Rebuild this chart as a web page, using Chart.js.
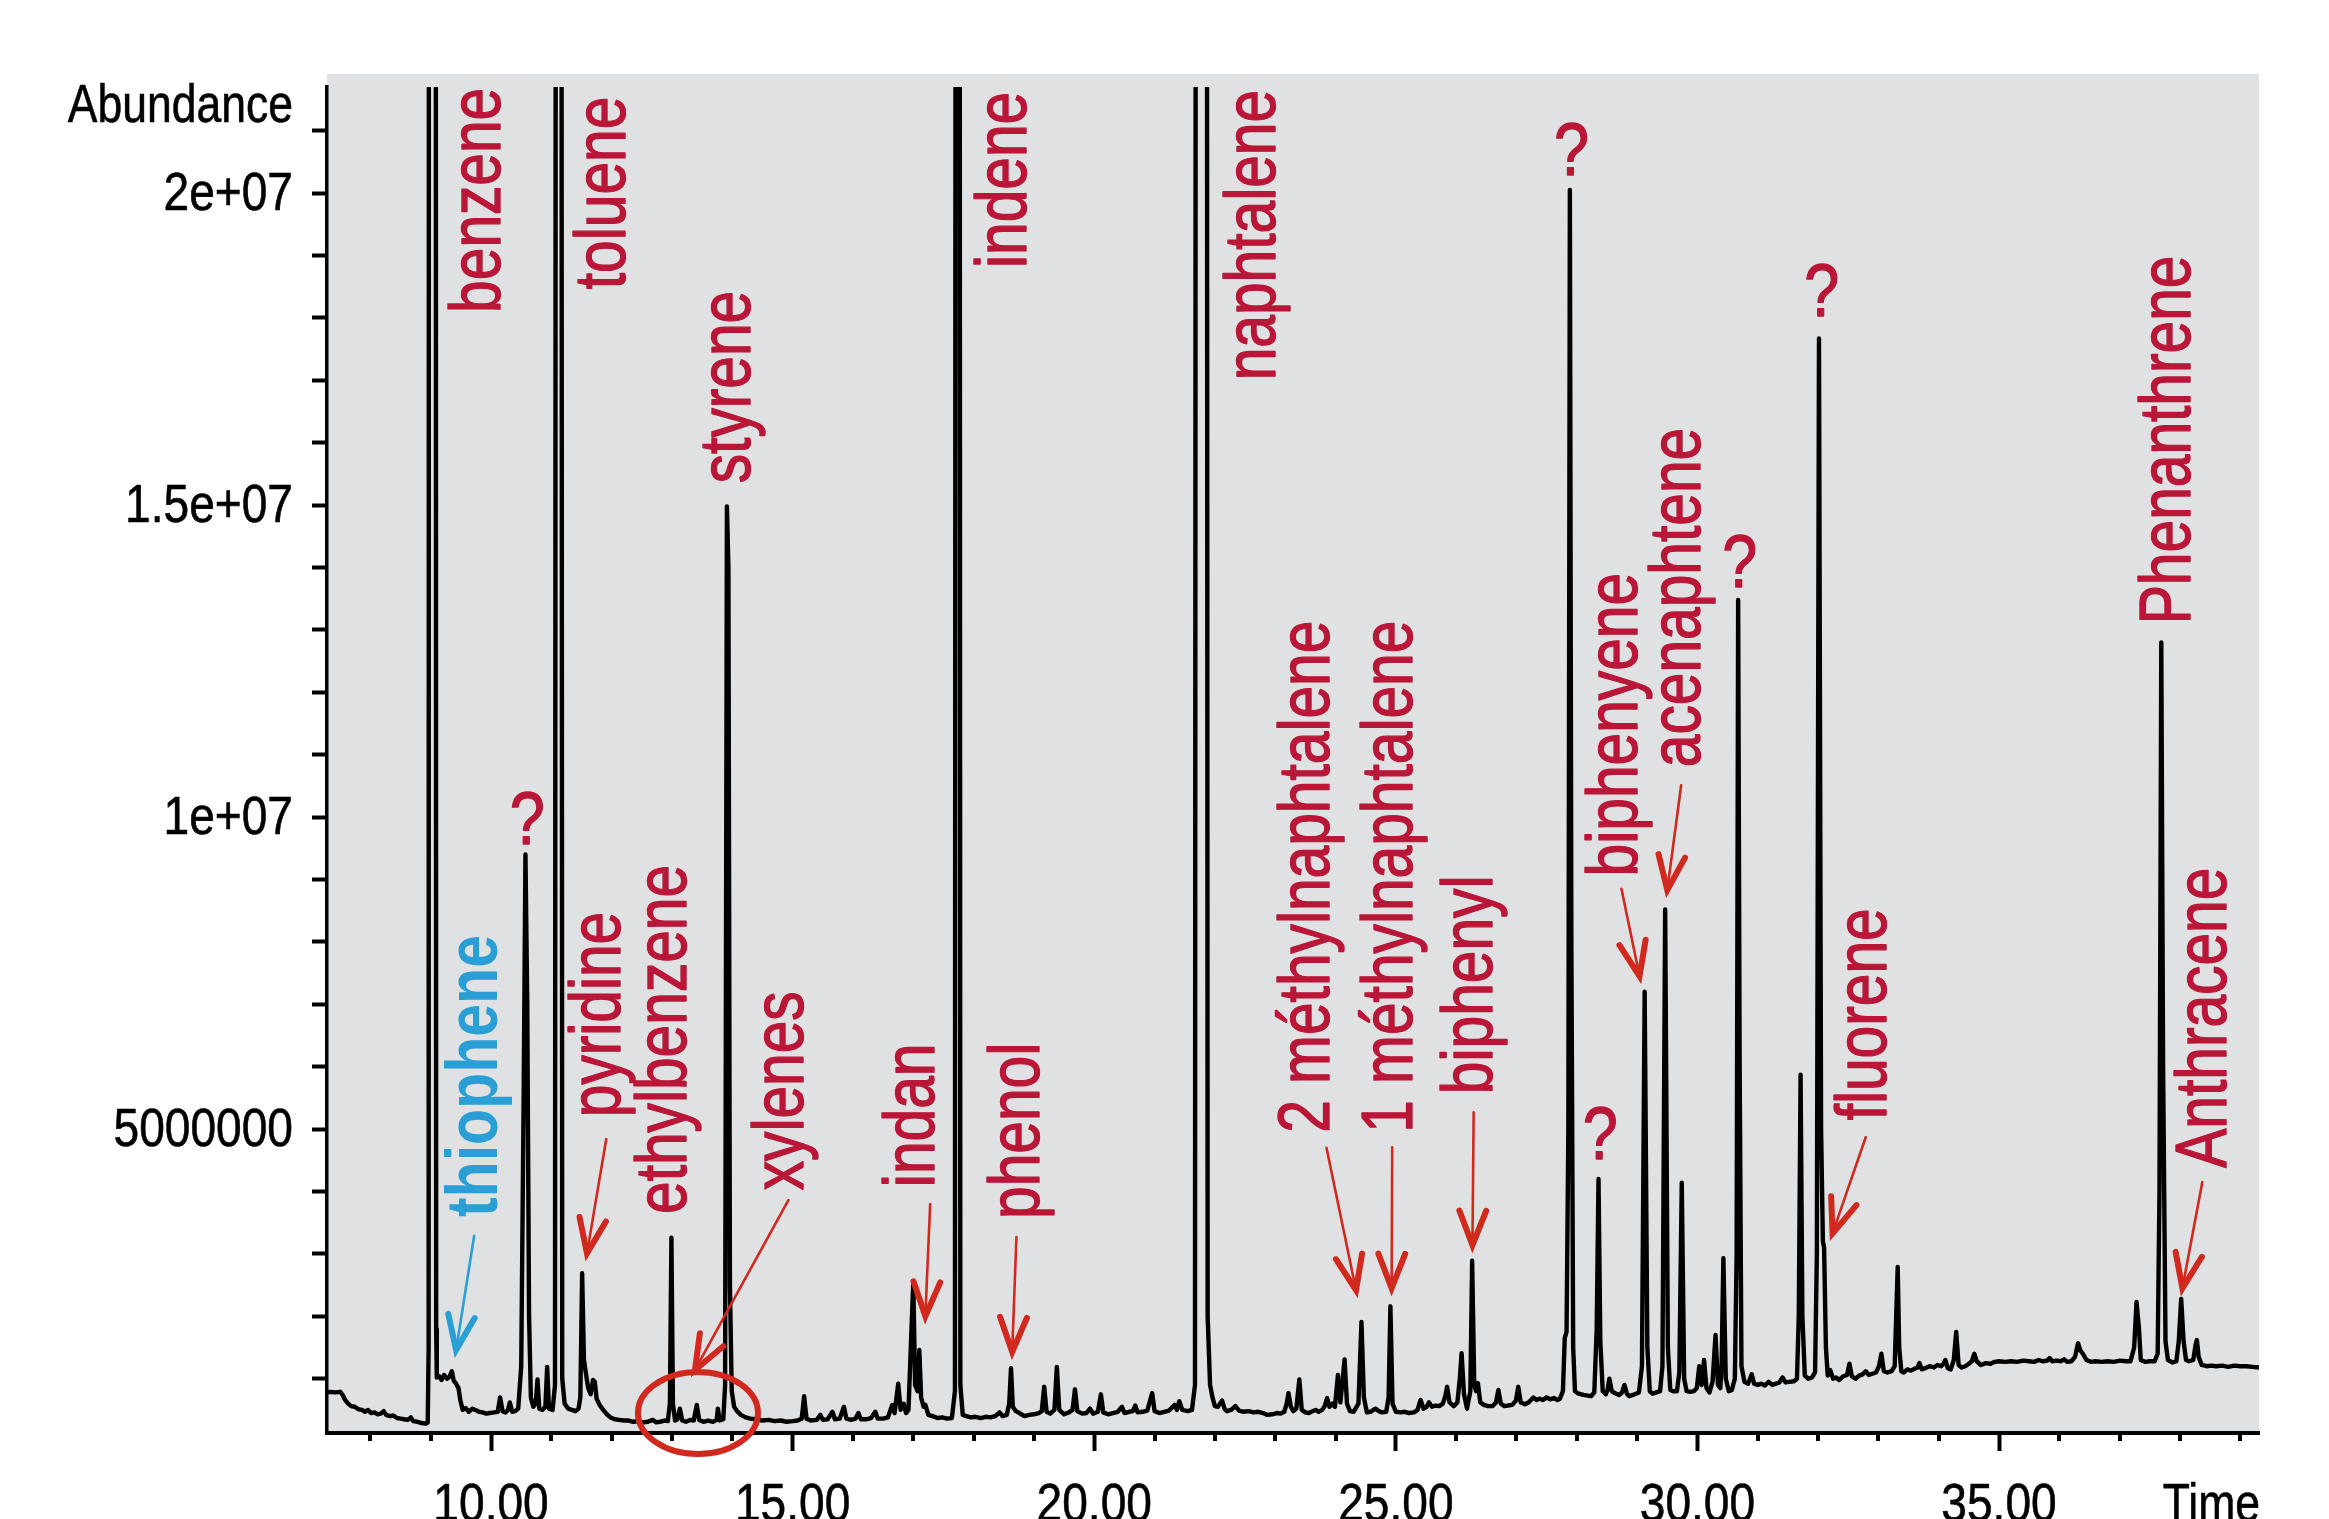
<!DOCTYPE html>
<html>
<head>
<meta charset="utf-8">
<title>Chromatogramme – composés aromatiques</title>
<script src="https://cdn.jsdelivr.net/npm/chart.js@4.4.1/dist/chart.umd.min.js"></script>
<style>
  html, body { margin: 0; padding: 0; background: #ffffff; }
  canvas { display: block; }
</style>
</head>
<body>
<canvas id="tic" width="2329" height="1519" style="width:2329px;height:1519px"></canvas>
<script>
// Total ion chromatogram: [retention time (min), abundance (millions)]
const trace0730to1200 = [
  [7.28,0.78],[7.34,0.79],[7.42,0.78],[7.50,0.79],[7.54,0.74],[7.58,0.66],[7.63,0.60],[7.68,0.56],
  [7.74,0.55],[7.80,0.51],[7.86,0.50],[7.91,0.47],[7.96,0.50],[8.01,0.45],[8.07,0.46],[8.12,0.43],
  [8.17,0.44],[8.22,0.48],[8.26,0.42],[8.32,0.40],[8.38,0.41],[8.44,0.37],[8.50,0.36],[8.56,0.35],
  [8.62,0.34],[8.67,0.38],[8.71,0.32],[8.78,0.31],[8.85,0.29],[8.92,0.28],[8.95,0.30],
  [8.965,1.5],[8.975,60],[9.075,60],[9.09,1.8],[9.10,1.02],
  [9.14,1.04],[9.18,0.98],[9.22,1.06],[9.27,1.00],[9.31,1.03],[9.35,1.12],[9.38,0.97],[9.42,0.92],
  [9.46,0.85],[9.49,0.66],[9.53,0.50],[9.58,0.53],[9.63,0.47],[9.69,0.52],[9.74,0.50],[9.80,0.47],
  [9.86,0.46],[9.92,0.44],[9.98,0.45],[10.05,0.46],[10.11,0.47],[10.15,0.70],[10.19,0.48],[10.24,0.46],
  [10.28,0.50],[10.31,0.62],[10.35,0.47],[10.40,0.48],[10.45,0.52],
  [10.50,1.2],[10.54,5.5],[10.57,9.40],[10.60,7.0],[10.63,2.0],[10.66,0.70],[10.70,0.55],[10.74,0.60],
  [10.77,0.99],[10.80,0.52],[10.85,0.50],[10.90,0.55],[10.93,1.19],[10.96,0.52],[11.02,0.50],
  [11.06,0.9],[11.09,60],[11.15,60],[11.18,1.0],[11.22,0.60],[11.28,0.52],[11.34,0.50],[11.40,0.48],
  [11.45,0.52],[11.48,0.70],
  [11.51,2.69],[11.54,1.3],[11.57,1.10],[11.61,0.85],[11.65,0.75],[11.69,0.98],[11.72,0.95],[11.75,0.68],
  [11.80,0.58],[11.86,0.50],[11.92,0.43],[11.98,0.38]
];

const trace1200to1800 = [
  [12.05,0.35],[12.12,0.34],[12.20,0.33],[12.28,0.33],[12.36,0.31],[12.44,0.32],[12.52,0.30],[12.60,0.31],
  [12.68,0.34],[12.74,0.30],[12.80,0.31],[12.87,0.33],[12.93,0.32],
  [12.965,0.6],[12.99,3.26],[13.015,0.6],[13.05,0.33],[13.09,0.35],[13.13,0.52],[13.17,0.33],[13.23,0.31],
  [13.30,0.34],[13.36,0.33],[13.41,0.58],[13.45,0.34],[13.52,0.31],[13.60,0.33],[13.68,0.31],[13.74,0.34],
  [13.76,0.52],[13.79,0.33],[13.85,0.35],
  [13.88,0.9],[13.91,14.98],[13.935,14.0],[13.96,2.5],[13.99,0.80],[14.03,0.55],[14.08,0.48],[14.14,0.42],
  [14.22,0.38],[14.30,0.36],[14.40,0.35],[14.50,0.33],[14.60,0.34],[14.70,0.32],[14.80,0.33],[14.90,0.31],
  [15.00,0.32],[15.08,0.33],[15.15,0.36],[15.19,0.72],[15.23,0.36],[15.30,0.33],[15.40,0.34],[15.46,0.42],
  [15.50,0.34],[15.58,0.35],[15.66,0.47],[15.70,0.35],[15.78,0.36],[15.85,0.55],[15.89,0.36],[15.97,0.34],
  [16.04,0.36],[16.09,0.45],[16.13,0.35],[16.22,0.35],[16.30,0.37],[16.37,0.47],[16.41,0.36],[16.50,0.36],
  [16.58,0.38],[16.65,0.58],[16.69,0.45],[16.75,0.92],[16.79,0.50],[16.84,0.60],[16.88,0.45],[16.92,0.50],
  [16.97,1.8],[17.00,2.55],[17.03,0.90],[17.07,0.80],[17.10,1.46],[17.13,0.70],[17.17,0.55],[17.20,0.58],
  [17.25,0.42],[17.32,0.40],[17.40,0.37],[17.48,0.38],[17.56,0.36],[17.64,0.37],
  [17.69,0.8],[17.715,60],[17.755,60],[17.78,0.9],[17.82,0.42],[17.88,0.40],[17.95,0.38]
];

const trace1800to2400 = [
  [18.03,0.39],[18.12,0.37],[18.20,0.39],[18.28,0.38],[18.36,0.40],[18.43,0.46],[18.48,0.40],[18.55,0.42],
  [18.59,0.6],[18.62,1.17],[18.65,0.55],[18.70,0.48],[18.76,0.45],[18.84,0.40],[18.92,0.42],[19.00,0.43],
  [19.08,0.45],[19.13,0.48],[19.17,0.87],[19.21,0.47],[19.27,0.44],[19.34,0.50],[19.38,1.19],[19.42,0.50],
  [19.50,0.43],[19.58,0.46],[19.64,0.50],[19.68,0.83],[19.72,0.48],[19.80,0.44],[19.87,0.45],[19.93,0.52],
  [19.98,0.44],[20.06,0.47],[20.11,0.75],[20.15,0.46],[20.23,0.43],[20.31,0.45],[20.39,0.47],[20.46,0.55],
  [20.50,0.45],[20.58,0.47],[20.64,0.48],[20.68,0.57],[20.72,0.46],[20.80,0.47],[20.88,0.49],[20.96,0.77],
  [21.00,0.48],[21.08,0.45],[21.16,0.47],[21.24,0.49],[21.33,0.58],[21.37,0.50],[21.41,0.64],[21.46,0.50],
  [21.55,0.48],[21.62,0.50],
  [21.67,0.9],[21.70,60],[21.85,60],[21.88,2.0],[21.92,0.9],[21.96,0.70],[22.00,0.56],[22.05,0.55],
  [22.12,0.65],[22.16,0.52],[22.20,0.48],[22.27,0.50],[22.34,0.56],[22.40,0.49],[22.48,0.47],[22.56,0.48],
  [22.64,0.46],[22.72,0.47],[22.80,0.45],[22.87,0.42],[22.95,0.43],[23.03,0.45],[23.09,0.44],[23.15,0.47],
  [23.19,0.60],[23.22,0.77],[23.26,0.55],[23.30,0.48],[23.35,0.52],[23.40,0.99],[23.44,0.50],[23.50,0.46],
  [23.56,0.45],[23.62,0.48],[23.67,0.50],[23.72,0.47],[23.78,0.50],[23.82,0.56],[23.86,0.69],[23.90,0.55],
  [23.95,0.60],[23.99,0.55]
];

const trace2400to3000 = [
  [24.04,1.06],[24.08,0.62],[24.11,0.90],[24.15,1.31],[24.19,0.60],[24.24,0.48],[24.30,0.47],
  [24.38,0.6],[24.43,1.91],[24.47,0.70],[24.52,0.46],[24.58,0.47],[24.66,0.52],[24.72,0.48],[24.77,0.46],
  [24.84,0.47],[24.88,0.7],[24.91,2.16],[24.945,0.6],[25.00,0.47],[25.08,0.46],[25.15,0.47],[25.22,0.45],
  [25.30,0.46],[25.36,0.50],[25.41,0.66],[25.46,0.52],[25.51,0.55],[25.55,0.62],[25.60,0.55],[25.66,0.57],
  [25.72,0.56],[25.78,0.60],[25.82,0.72],[25.85,0.87],[25.89,0.62],[25.96,0.56],[26.02,0.62],[26.06,1.00],
  [26.09,1.41],[26.13,0.75],[26.18,0.52],
  [26.235,0.8],[26.265,2.89],[26.30,0.90],[26.33,0.80],[26.36,0.93],[26.40,0.62],[26.46,0.58],[26.53,0.56],
  [26.60,0.56],[26.66,0.62],[26.70,0.82],[26.74,0.60],[26.80,0.56],[26.86,0.57],[26.93,0.58],[26.99,0.65],
  [27.03,0.87],[27.07,0.62],[27.14,0.59],[27.20,0.62],[27.28,0.70],[27.33,0.66],[27.39,0.68],[27.44,0.66],
  [27.50,0.70],[27.56,0.67],[27.62,0.69],[27.68,0.66],[27.72,0.68],[27.77,0.80],[27.80,1.65],[27.83,1.75],
  [27.86,5.0],[27.885,20.05],[27.91,8.0],[27.94,1.5],[27.97,0.80],[28.03,0.76],[28.11,0.74],[28.18,0.73],
  [28.24,0.72],[28.29,0.78],
  [28.33,1.8],[28.36,4.20],[28.39,1.6],[28.43,0.80],[28.48,0.75],[28.51,0.82],[28.54,1.00],[28.58,0.80],
  [28.63,0.77],[28.70,0.74],[28.75,0.78],[28.79,0.90],[28.83,0.76],[28.87,0.72],[28.93,0.74],[28.98,0.76],
  [29.03,0.78],
  [29.08,1.2],[29.125,7.20],[29.17,1.5],[29.21,0.80],[29.26,0.76],[29.32,0.78],[29.38,0.80],
  [29.42,1.2],[29.465,8.52],[29.51,1.5],[29.55,0.82],[29.60,0.80],[29.66,0.80],
  [29.70,1.1],[29.74,4.14],[29.78,1.0],[29.82,0.80],[29.88,0.79],[29.94,0.80],[29.99,0.85]
];

const trace3000to3931 = [
  [30.03,1.20],[30.07,0.90],[30.11,1.30],[30.15,0.85],[30.20,0.78],[30.25,0.95],[30.30,1.70],[30.34,0.90],
  [30.38,0.85],[30.40,1.2],[30.43,2.93],[30.47,1.0],[30.52,0.80],[30.57,0.82],[30.62,1.0],
  [30.65,3.0],[30.675,13.48],[30.70,6.0],[30.73,1.2],[30.78,0.95],[30.84,0.92],[30.90,1.07],[30.94,0.92],
  [31.00,0.90],[31.06,0.92],[31.12,0.89],[31.18,0.95],[31.24,0.90],[31.30,0.92],[31.36,0.94],[31.41,1.02],
  [31.46,0.94],[31.52,0.95],[31.60,0.96],[31.65,1.0],
  [31.68,2.0],[31.71,5.87],[31.74,2.0],[31.78,1.05],[31.84,1.00],[31.90,1.02],[31.95,1.1],
  [31.98,3.0],[32.015,17.67],[32.05,5.0],[32.08,3.2],[32.10,3.10],[32.13,1.5],[32.16,1.05],[32.20,1.14],
  [32.25,1.00],[32.30,1.02],[32.35,0.98],[32.42,1.04],[32.48,1.06],[32.52,1.24],[32.56,1.04],[32.62,1.00],
  [32.68,1.05],[32.74,1.07],[32.79,1.12],[32.84,1.06],[32.90,1.08],[32.96,1.10],[33.01,1.20],[33.05,1.40],
  [33.09,1.12],[33.15,1.10],[33.22,1.12],[33.27,1.2],
  [33.295,2.0],[33.32,2.79],[33.345,1.5],[33.38,1.12],[33.42,1.10],[33.48,1.15],[33.54,1.13],[33.60,1.16],
  [33.65,1.18],[33.68,1.25],[33.72,1.15],[33.78,1.17],[33.85,1.20],[33.92,1.18],[33.98,1.22],[34.04,1.20],
  [34.08,1.24],[34.11,1.30],[34.15,1.17],[34.20,1.15],[34.25,1.30],[34.29,1.75],[34.33,1.22],[34.38,1.18],
  [34.44,1.20],[34.50,1.24],[34.55,1.28],[34.59,1.40],[34.63,1.28],[34.70,1.22],[34.78,1.25],[34.86,1.24],
  [34.93,1.27],[35.00,1.28],[35.10,1.27],[35.20,1.28],[35.30,1.27],[35.40,1.29],[35.50,1.28],[35.58,1.27],
  [35.66,1.30],[35.72,1.28],[35.80,1.29],[35.84,1.33],[35.88,1.28],[35.96,1.29],[36.03,1.28],[36.08,1.31],
  [36.13,1.27],[36.20,1.28],[36.26,1.35],[36.31,1.57],[36.35,1.45],[36.39,1.40],[36.45,1.30],[36.52,1.27],
  [36.60,1.28],[36.70,1.27],[36.80,1.28],[36.90,1.27],[37.00,1.29],[37.10,1.28],[37.18,1.28],[37.24,1.5],
  [37.28,2.23],[37.32,1.8],[37.35,1.30],[37.42,1.27],[37.50,1.28],[37.58,1.28],[37.63,1.4],
  [37.66,4.0],[37.69,12.80],[37.72,6.0],[37.76,1.6],[37.80,1.30],[37.88,1.26],[37.94,1.28],[37.98,1.6],
  [38.02,2.28],[38.06,1.6],[38.10,1.30],[38.15,1.28],[38.22,1.30],[38.26,1.55],[38.28,1.62],[38.31,1.35],
  [38.36,1.22],[38.44,1.20],[38.52,1.21],[38.60,1.20],[38.70,1.21],[38.80,1.19],[38.90,1.21],[39.00,1.20],
  [39.10,1.20],[39.20,1.19],[39.31,1.18]
];

// Axis ticks
const timeTickValues = [10, 15, 20, 25, 30, 35];
const timeMinorTicks = [8, 9, 11, 12, 13, 14, 16, 17, 18, 19, 21, 22, 23, 24, 26, 27, 28, 29, 31, 32, 33, 34, 36, 37, 38, 39];
const abundanceTickValues = [1e6, 2e6, 3e6, 4e6, 5e6, 6e6, 7e6, 8e6, 9e6, 10e6, 11e6, 12e6, 13e6, 14e6,
                             15e6, 16e6, 17e6, 18e6, 19e6, 20e6, 21e6];
const abundanceLabelValues = [5e6, 10e6, 15e6, 20e6];
const abundanceLabelText = ['5000000', '1e+07', '1.5e+07', '2e+07'];

// Compound names (rotated), anchored at the start of their baseline: [text, time, abundance (M)]
const compoundLabels = [
  ['benzene', 10.15, 18.08],
  ['toluene', 12.22, 18.46],
  ['styrene', 14.30, 15.35],
  ['indene', 18.87, 18.80],
  ['naphtalene', 22.99, 17.00],
  ['pyridine', 12.14, 5.19],
  ['ethylbenzene', 13.23, 3.64],
  ['xylenes', 15.17, 4.02],
  ['indan', 17.35, 4.07],
  ['phenol', 19.09, 3.56],
  ['2 méthylnaphtalene', 23.90, 4.94],
  ['1 méthylnaphtalene', 25.26, 4.94],
  ['biphenyl', 26.60, 5.56],
  ['biphenyene', 28.99, 9.05],
  ['acenaphtene', 30.05, 10.80],
  ['fluorene', 33.13, 5.14],
  ['Phenanthrene', 38.16, 13.09],
  ['Anthracene', 38.76, 4.38]
];
const thiopheneLabel = ['thiophene', 10.10, 3.59];

// Unidentified peaks: [time, abundance (M)] of the mark's baseline centre
const unknownMarks = [[10.60, 9.57], [27.91, 20.29], [28.39, 4.52], [30.70, 13.69], [32.06, 18.03]];

// Arrows: [from time, from abundance, to time, to abundance]
const redArrows = [
  [11.91, 4.84, 11.59, 3.01],
  [14.93, 3.86, 13.38, 1.14],
  [17.28, 3.80, 17.20, 2.00],
  [18.71, 3.27, 18.64, 1.43],
  [23.85, 4.70, 24.34, 2.42],
  [24.94, 4.71, 24.93, 2.45],
  [26.29, 5.27, 26.27, 3.14],
  [28.74, 8.85, 29.04, 7.45],
  [29.73, 10.51, 29.50, 8.83],
  [32.79, 4.87, 32.24, 3.33],
  [38.37, 4.15, 38.04, 2.45]
];
const blueArrow = [9.72, 3.29, 9.42, 1.46];

// Ring around the xylene peaks: centre time, centre abundance (M), half-width (min), half-height (M)
const xyleneRing = [13.43, 0.45, 0.995, 0.657];

const SANS = '"Liberation Sans", Arial, Helvetica, sans-serif';
const RED_TEXT = '#ba1637';
const RED_ARROW = '#d2291f';
const BLUE = '#2a9fd6';
const PANEL = '#e0e1e3';

const points = [...trace0730to1200, ...trace1200to1800, ...trace1800to2400, ...trace2400to3000, ...trace3000to3931]
  .map(([t, a]) => ({ x: t, y: a * 1e6 }));

// Condensed text: glyphs squeezed along the writing direction, with a light outline for weight
function condensedText(ctx, text, x, y, o) {
  ctx.save();
  ctx.translate(x, y);
  if (o.rotate) ctx.rotate(o.rotate);
  ctx.scale(o.squeeze, 1);
  ctx.font = (o.weight || 'normal') + ' ' + o.size + 'px ' + SANS;
  ctx.fillStyle = o.color;
  ctx.strokeStyle = o.color;
  ctx.lineJoin = 'round';
  ctx.textAlign = o.align || 'left';
  ctx.textBaseline = 'alphabetic';
  ctx.fillText(text, 0, 0);
  if (o.heavier) {
    ctx.lineWidth = o.heavier;
    ctx.strokeText(text, 0, 0);
  }
  ctx.restore();
}

function drawArrow(ctx, x1, y1, x2, y2, color) {
  const ang = Math.atan2(y2 - y1, x2 - x1);
  const head = 37, spread = 0.37;
  ctx.save();
  ctx.strokeStyle = color;
  ctx.lineCap = 'round';
  ctx.lineWidth = 2.6;
  ctx.beginPath();
  ctx.moveTo(x1, y1);
  ctx.lineTo(x2 - Math.cos(ang) * 6, y2 - Math.sin(ang) * 6);
  ctx.stroke();
  ctx.lineWidth = 6;
  ctx.lineJoin = 'miter';
  ctx.beginPath();
  ctx.moveTo(x2 - head * Math.cos(ang - spread), y2 - head * Math.sin(ang - spread));
  ctx.lineTo(x2, y2);
  ctx.lineTo(x2 - head * Math.cos(ang + spread), y2 - head * Math.sin(ang + spread));
  ctx.stroke();
  ctx.restore();
}

const chromatogramNotes = {
  id: 'chromatogramNotes',
  beforeDraw(chart) {
    const { ctx, chartArea: a } = chart;
    ctx.save();
    ctx.fillStyle = '#ffffff';
    ctx.fillRect(0, 0, chart.width, chart.height);
    ctx.fillStyle = PANEL;
    ctx.fillRect(a.left, a.top - 13, a.right - a.left, a.bottom - a.top + 13);
    ctx.restore();
  },
  afterDraw(chart) {
    const { ctx, chartArea: a } = chart;
    const sx = chart.scales.x, sy = chart.scales.y;
    const px = t => sx.getPixelForValue(t);
    const py = m => sy.getPixelForValue(m * 1e6);
    const black = { size: 53, color: '#000', align: 'right', squeeze: 0.84, heavier: 0.6 };
    const digits = { size: 53, color: '#000', squeeze: 0.87, heavier: 0.6 };

    ctx.save();
    // minor minute ticks on the time axis
    ctx.strokeStyle = '#000';
    ctx.lineWidth = 4;
    timeMinorTicks.forEach(m => {
      const x = Math.round(px(m));
      ctx.beginPath();
      ctx.moveTo(x, a.bottom);
      ctx.lineTo(x, a.bottom + 8);
      ctx.stroke();
    });
    ctx.restore();

    // tick labels, placed by the chart scales
    sx.ticks.forEach(tk => {
      condensedText(ctx, Number(tk.value).toFixed(2), sx.getPixelForValue(tk.value), a.bottom + 88,
        Object.assign({ align: 'center' }, digits));
    });
    abundanceLabelValues.forEach((v, i) => {
      condensedText(ctx, abundanceLabelText[i], a.left - 34, sy.getPixelForValue(v) + 17,
        Object.assign({ align: 'right' }, digits));
    });

    // axis captions
    condensedText(ctx, 'Abundance', a.left - 34, a.top + 35, black);
    condensedText(ctx, 'Time', a.right + 1, a.bottom + 88, black);

    // compound names
    const up = -Math.PI / 2;
    compoundLabels.forEach(([text, t, m]) =>
      condensedText(ctx, text, px(t), py(m), { size: 72, color: RED_TEXT, squeeze: 0.815, rotate: up, heavier: 1.4 }));
    condensedText(ctx, thiopheneLabel[0], px(thiopheneLabel[1]), py(thiopheneLabel[2]),
      { size: 72, weight: 'bold', color: BLUE, squeeze: 0.82, rotate: up });

    unknownMarks.forEach(([t, m]) =>
      condensedText(ctx, '?', px(t), py(m), { size: 74, color: RED_TEXT, squeeze: 0.85, align: 'center', heavier: 1.4 }));

    redArrows.forEach(([t1, m1, t2, m2]) => drawArrow(ctx, px(t1), py(m1), px(t2), py(m2), RED_ARROW));
    drawArrow(ctx, px(blueArrow[0]), py(blueArrow[1]), px(blueArrow[2]), py(blueArrow[3]), BLUE);

    // ring around the xylene isomers
    const [ct, cm, dt, dm] = xyleneRing;
    const cx = px(ct), cy = py(cm);
    ctx.save();
    ctx.strokeStyle = RED_ARROW;
    ctx.lineWidth = 6;
    ctx.beginPath();
    ctx.ellipse(cx, cy, Math.abs(px(ct + dt) - cx), Math.abs(py(cm + dm) - cy), 0, 0, Math.PI * 2);
    ctx.stroke();
    ctx.restore();
  }
};

new Chart(document.getElementById('tic'), {
  type: 'line',
  data: {
    datasets: [{
      data: points,
      borderColor: '#000000',
      borderWidth: 4.4,
      pointRadius: 0,
      tension: 0,
      fill: false,
      borderJoinStyle: 'round'
    }]
  },
  options: {
    responsive: false,
    animation: false,
    devicePixelRatio: 1,
    layout: { padding: { top: 87, right: 70, left: 0, bottom: 0 } },
    plugins: { legend: { display: false }, tooltip: { enabled: false } },
    scales: {
      x: {
        type: 'linear',
        position: 'bottom',
        min: 7.28,
        max: 39.31,
        afterFit: s => { s.height = 86; },
        afterBuildTicks: s => { s.ticks = timeTickValues.map(v => ({ value: v })); },
        ticks: { display: false, autoSkip: false, maxRotation: 0 },
        grid: { drawOnChartArea: false, drawTicks: true, tickLength: 18, tickWidth: 4, tickColor: '#000' },
        border: { display: true, color: '#000', width: 4 }
      },
      y: {
        type: 'linear',
        min: 0.13e6,
        max: 21.7e6,
        afterFit: s => { s.width = 327; },
        afterBuildTicks: s => { s.ticks = abundanceTickValues.map(v => ({ value: v })); },
        ticks: { display: false, autoSkip: false },
        grid: { drawOnChartArea: false, drawTicks: true, tickLength: 15, tickWidth: 4, tickColor: '#000' },
        border: { display: true, color: '#000', width: 3.5 }
      }
    }
  },
  plugins: [chromatogramNotes]
});
</script>
</body>
</html>
